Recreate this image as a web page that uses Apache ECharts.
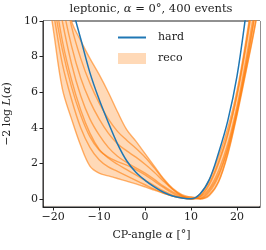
<!DOCTYPE html>
<html><head><meta charset="utf-8">
<script src="https://cdn.jsdelivr.net/npm/echarts@6/dist/echarts.min.js"></script>
<style>html,body{margin:0;padding:0;background:#fff}#c{width:266px;height:250px}</style>
</head><body><div id="c"></div>
<script>
// CP-angle grid (degrees)
const alphaGrid = [-22,-20,-18,-16,-14,-12,-10,-8,-6,-4,-2,0,2,4,6,8,10,12,14,16,18,20,22,24,26];
// hard-level -2 log L
const hard = [18.5,15.6,13.0,10.9,9.0,7.1,5.6,4.3,3.1,2.15,1.5,1.05,0.68,0.38,0.17,0.06,0.01,0.3,1.1,2.6,4.4,6.9,10.5,14.5,19];
// reco-level -2 log L curves
const reco1 = [13.0,9.6,6.2,4.5,3.0,1.85,1.45,1.3,1.15,1.0,0.85,0.68,0.5,0.32,0.17,0.06,0.0,0.15,0.8,2.0,3.6,5.9,8.8,12.2,16];
const reco2 = [13.5,10.6,7.6,5.6,4.0,2.9,2.2,1.8,1.55,1.3,1.05,0.8,0.55,0.33,0.16,0.05,0.01,0.3,1.1,2.4,4.0,6.1,9.0,12.5,16.5];
const reco3 = [15,12,8.9,6.7,5.0,3.7,2.8,2.3,1.95,1.65,1.35,1.05,0.75,0.45,0.22,0.08,0.02,0.12,0.6,1.6,3.1,5.2,7.9,11,14.5];
const reco4 = [16,13,10.0,7.6,5.8,4.5,3.6,2.9,2.4,2.05,1.75,1.45,1.1,0.72,0.4,0.15,0.02,0.05,0.5,1.4,2.9,5.0,7.6,10.6,14];
const reco5 = [17,14,11.0,8.6,6.8,5.5,4.5,3.7,3.1,2.7,2.35,1.95,1.5,1.0,0.55,0.2,0.02,0.2,0.9,2.1,3.7,5.8,8.6,12,16];
const reco6 = [18,15,12.2,9.7,7.9,6.5,5.4,4.5,3.8,3.3,2.85,2.35,1.75,1.1,0.55,0.18,0.03,0.02,0.4,1.3,2.8,4.9,7.5,10.5,14];
const reco7 = [19,15.5,12.6,10.0,8.9,7.9,7.0,6.0,4.9,3.9,3.25,2.55,1.85,1.15,0.6,0.25,0.1,0.01,0.25,1.0,2.6,4.8,7.3,9.9,13];
const reco8 = [14,11.2,8.4,6.3,4.7,3.5,2.75,2.35,2.1,1.9,1.65,1.35,1.0,0.65,0.33,0.12,0.12,0.0,0.2,0.95,2.5,4.7,7.2,9.8,13];
const xTicks = [-20,-10,0,10,20];
const yTicks = [0,2,4,6,8,10];

const recos = [reco1,reco2,reco3,reco4,reco5,reco6,reco7,reco8];
const lower = alphaGrid.map((a,i)=>Math.min(...recos.map(r=>r[i])));
const upper = alphaGrid.map((a,i)=>Math.max(...recos.map(r=>r[i])));
const pair = arr => alphaGrid.map((a,i)=>[a,arr[i]]);
const SM = 0.35;
const FONT = 'DejaVu Serif';
const minus = v => String(v).replace('-', '\u2212');

const series = [];
// band: fill under upper envelope, then white under lower envelope
series.push({type:'line', name:'reco', data:pair(upper), smooth:SM, symbol:'none',
  lineStyle:{opacity:0, width:0}, itemStyle:{color:'#ffd9b7'},
  areaStyle:{color:'#ffd9b7', opacity:1, origin:-0.38}, silent:true, z:1});
series.push({type:'line', name:'bandBase', data:pair(lower), smooth:SM, symbol:'none',
  lineStyle:{opacity:0, width:0},
  areaStyle:{color:'#ffffff', opacity:1, origin:-0.38}, silent:true, z:1});
recos.forEach((r,k)=>series.push({type:'line', name:'r'+k, data:pair(r), smooth:SM, symbol:'none',
  lineStyle:{color:'rgba(255,127,14,0.6)', width:1.4}, z:2}));
series.push({type:'line', name:'hard', data:pair(hard), smooth:SM, symbol:'none', showSymbol:false,
  lineStyle:{color:'#1f77b4', width:1.5}, itemStyle:{color:'#1f77b4'}, z:3});

const txt = {fontFamily:FONT, fontSize:11, color:'#222'};
const ttl = {fontFamily:FONT, fontSize:11.5, color:'#222', fontWeight:'normal'};
const chart = echarts.init(document.getElementById('c'), null, {renderer:'canvas'});
chart.setOption({
  animation:false,
  backgroundColor:'#fff',
  title:{text:'{n|leptonic, }{i|\u03b1}{n| = 0\u00b0, 400 events}', left:151, top:3, textAlign:'center', padding:0,
    textStyle:{fontWeight:'normal', rich:{n:ttl,i:Object.assign({fontStyle:'italic'},ttl)}}},
  grid:{left:43, right:6, top:21, bottom:43, show:true, borderColor:'#222', borderWidth:1, outerBoundsMode:'none', containLabel:false},
  legend:[
    {orient:'vertical', left:118, top:32, padding:0, itemWidth:28, itemHeight:2, icon:'rect',
     textStyle:Object.assign({padding:[0,0,0,7]},txt),
     data:[{name:'hard', itemStyle:{color:'#1f77b4'}}]},
    {orient:'vertical', left:118, top:53, padding:0, itemWidth:28, itemHeight:11, icon:'rect',
     textStyle:Object.assign({padding:[0,0,0,7]},txt),
     data:[{name:'reco', itemStyle:{color:'#ffd9b7', borderWidth:0}}]}
  ],
  xAxis:{type:'value', min:-22.2, max:25,
    name:'{n|CP-angle }{i|\u03b1}{n| [\u00b0]}', nameLocation:'middle', nameGap:23,
    nameTextStyle:{rich:{n:txt,i:Object.assign({fontStyle:'italic'},txt)}},
    axisLine:{show:true, onZero:false, lineStyle:{color:'#222', width:1}},
    axisTick:{show:true, inside:false, length:3.5, customValues:xTicks, lineStyle:{color:'#222'}},
    axisLabel:{customValues:xTicks, formatter:minus, fontFamily:FONT, fontSize:11, color:'#222', margin:5},
    splitLine:{show:false}},
  yAxis:{type:'value', min:-0.45, max:10,
    name:'{n|\u22122 log }{i|L}{n|(}{i|\u03b1}{n|)}', nameLocation:'middle', nameGap:25, nameRotate:90,
    nameTextStyle:{rich:{n:txt,i:Object.assign({fontStyle:'italic'},txt)}},
    axisLine:{show:true, onZero:false, lineStyle:{color:'#222', width:1}},
    axisTick:{show:true, inside:false, length:3.5, customValues:yTicks, lineStyle:{color:'#222'}},
    axisLabel:{customValues:yTicks, formatter:minus, fontFamily:FONT, fontSize:11, color:'#222', margin:5},
    splitLine:{show:false}},
  series:series
});
</script></body></html>
